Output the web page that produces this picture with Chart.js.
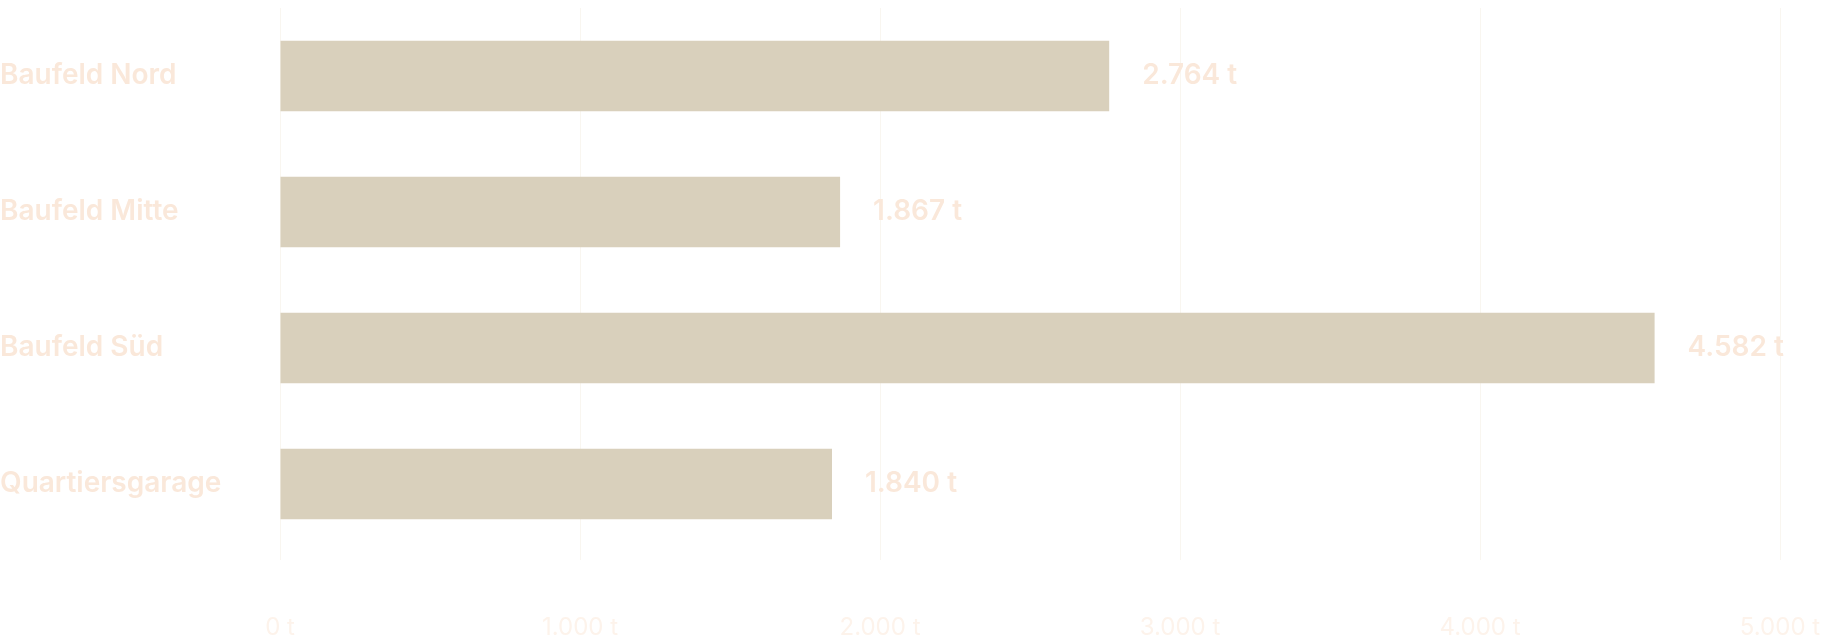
<!DOCTYPE html>
<html>
<head>
<meta charset="utf-8">
<script src="https://cdn.jsdelivr.net/npm/chart.js@4"></script>
<style>
  html, body { margin: 0; padding: 0; background: #fff; }
  #wrap { width: 1822px; height: 642px; position: relative; }
</style>
</head>
<body>
<div id="wrap"><canvas id="mass-chart"></canvas></div>
<script>
var categories = ["Baufeld Nord", "Baufeld Mitte", "Baufeld Süd", "Quartiersgarage"];
var tonnes = [2764, 1867, 4582, 1840];
var xTicks = [0, 1000, 2000, 3000, 4000, 5000];

var labelColor = 'rgb(250, 232, 218)';
var tickColor = 'rgb(253, 243, 235)';

function fmt(v) {
    return v.toLocaleString('de-DE') + ' t';
}

// draws the value next to the end of each bar
var valueLabels = {
    id: 'valueLabels',
    afterDatasetsDraw: function (chart) {
        var ctx = chart.ctx;
        var meta = chart.getDatasetMeta(0);
        ctx.save();
        ctx.font = '600 28px Inter';
        ctx.fillStyle = labelColor;
        ctx.textBaseline = 'middle';
        ctx.textAlign = 'left';
        meta.data.forEach(function (bar, i) {
            ctx.fillText(fmt(chart.data.datasets[0].data[i]), bar.x + 33, bar.y);
        });
        ctx.restore();
    }
};

var ctx = document.getElementById('mass-chart').getContext('2d');
var chart = new Chart(ctx, {
    type: 'bar',
    data: {
        labels: categories,
        datasets: [{
            data: tonnes,
            backgroundColor: 'rgb(217, 208, 188)',
            borderWidth: 0,
            barPercentage: 0.65,
            categoryPercentage: 0.8
        }]
    },
    options: {
        indexAxis: 'y',
        responsive: true,
        maintainAspectRatio: false,
        animation: false,
        plugins: {
            legend: { display: false },
            tooltip: { enabled: false }
        },
        scales: {
            x: {
                min: xTicks[0],
                max: xTicks[xTicks.length - 1],
                afterBuildTicks: function (scale) {
                    scale.ticks = xTicks.map(function (v) { return { value: v }; });
                },
                // big tick padding pushes the labels down, keep it out of the box size
                afterFit: function (scale) {
                    scale.height = 90;
                    scale.paddingLeft = 0;
                    scale.paddingRight = 42;
                },
                grid: {
                    color: 'rgb(249, 246, 240)',
                    tickLength: 8
                },
                border: { display: false },
                ticks: {
                    color: tickColor,
                    padding: 53,
                    font: { family: 'Inter', size: 24 },
                    callback: function (v) { return fmt(v); }
                }
            },
            y: {
                grid: { display: false },
                border: { display: false },
                afterFit: function (scale) {
                    scale.width = 280;
                    scale.paddingTop = 8;
                    scale.paddingBottom = 0;
                },
                ticks: {
                    color: labelColor,
                    crossAlign: 'far',
                    font: { family: 'Inter', size: 28, weight: '600' }
                }
            }
        }
    },
    plugins: [valueLabels]
});
</script>
</body>
</html>
